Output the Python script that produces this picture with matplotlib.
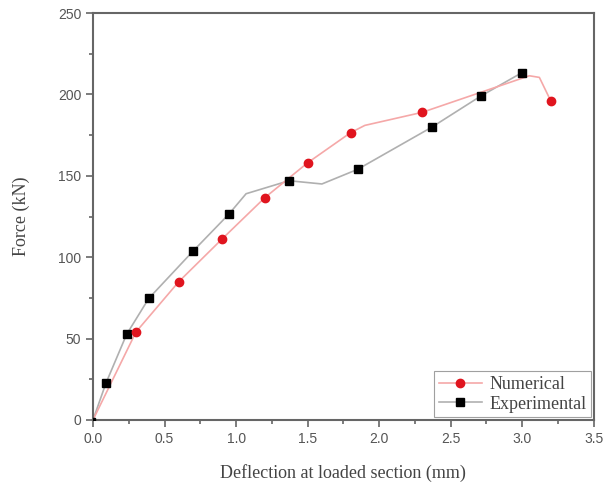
import matplotlib.pyplot as plt
from matplotlib.ticker import MultipleLocator
from matplotlib.lines import Line2D

# marker points
num_x = [0.3, 0.6, 0.9, 1.2, 1.5, 1.8, 2.3, 3.2]
num_y = [54, 85, 111, 136.5, 158, 176.5, 189, 196]
exp_x = [0.09, 0.235, 0.39, 0.70, 0.95, 1.37, 1.85, 2.37, 2.71, 3.0]
exp_y = [22.5, 52.6, 74.7, 103.8, 126.5, 147, 154, 180, 199, 213.5]

# the thin connecting curves have a few more points than the markers
num_line_x = [0, 0.3, 0.6, 0.9, 1.2, 1.5, 1.8, 1.9, 2.3, 3.05, 3.12, 3.2]
num_line_y = [0, 54, 85, 111, 136.5, 158, 176.5, 181, 189, 211.5, 210.5, 196]
exp_line_x = [0, 0.09, 0.235, 0.39, 0.70, 0.95, 1.07, 1.37, 1.6, 1.85, 2.37, 2.71, 3.0]
exp_line_y = [0, 22.5, 52.6, 74.7, 103.8, 126.5, 139, 147, 145, 154, 180, 199, 213.5]

fig = plt.figure(figsize=(6.04, 4.86), dpi=100)
ax = fig.add_axes([0.154, 0.136, 0.829, 0.837])

ax.plot(exp_line_x, exp_line_y, color='#b0b0b0', lw=1.2, zorder=2)
ax.plot(num_line_x, num_line_y, color='#f5a8a8', lw=1.2, zorder=2)
ax.plot(exp_x, exp_y, 's', color='black', ms=6, zorder=4)
ax.plot(num_x, num_y, 'o', color='#e0141e', ms=6, zorder=4)
ax.plot([0], [0], 's', color='black', ms=2.5, zorder=4)

ax.set_xlim(0, 3.5)
ax.set_ylim(0, 250)
ax.xaxis.set_major_locator(MultipleLocator(0.5))
ax.xaxis.set_minor_locator(MultipleLocator(0.25))
ax.yaxis.set_major_locator(MultipleLocator(50))
ax.yaxis.set_minor_locator(MultipleLocator(25))
ax.xaxis.set_major_formatter(plt.FuncFormatter(lambda v, p: f'{v:.1f}'))

for s in ax.spines.values():
    s.set_color('#666666')
    s.set_linewidth(1.5)
ax.tick_params(which='both', direction='out', color='#666666', width=1.2,
               labelcolor='#555555', labelsize=10)
ax.tick_params(which='major', length=5)
ax.tick_params(which='minor', length=3)
for t in ax.get_xticklabels() + ax.get_yticklabels():
    t.set_family('Liberation Sans')

ax.set_xlabel('Deflection at loaded section (mm)', family='Liberation Serif',
              fontsize=13, color='#444444', labelpad=13)
ax.set_ylabel('Force (kN)', family='Liberation Serif', fontsize=13,
              color='#444444', labelpad=20)

handles = [Line2D([], [], color='#f5a8a8', lw=1.2, marker='o', ms=6,
                  mfc='#e0141e', mec='#e0141e'),
           Line2D([], [], color='#b0b0b0', lw=1.2, marker='s', ms=6,
                  mfc='black', mec='black')]
leg = ax.legend(handles, ['Numerical', 'Experimental'], loc='lower right',
                prop={'family': 'Liberation Serif', 'size': 13},
                fancybox=False, borderaxespad=0.15, handlelength=2.4,
                handletextpad=0.4, borderpad=0.25, labelspacing=0.15,
                labelcolor='#444444')
leg.get_frame().set_edgecolor('#888888')
leg.get_frame().set_linewidth(0.8)

plt.savefig('out.png', dpi=100)
